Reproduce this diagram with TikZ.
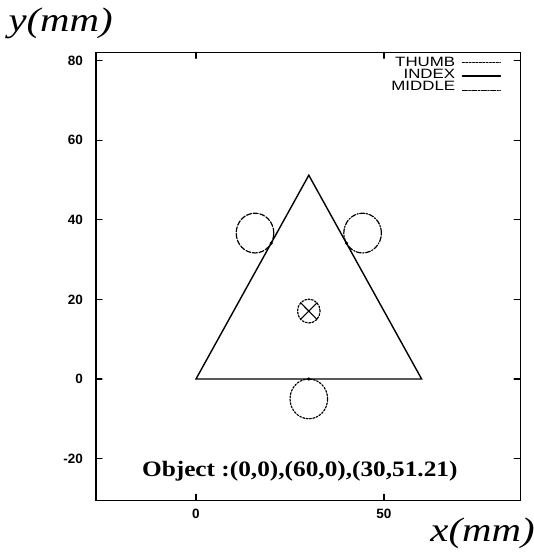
\documentclass[tikz,border=0pt]{standalone}
\usepackage{amsmath}
\usepackage{fontspec}
\usetikzlibrary{positioning}
\newfontfamily\ticksans{Liberation Sans}
\newfontfamily\labelserif{Liberation Serif}

\begin{document}
\begin{tikzpicture}[x=3.76pt, y=3.979pt, line cap=round]
        \tikzset{frameline/.style={line width=1.2pt},
                ticklabel/.style={font=\ticksans\bfseries\fontsize{13.5}{13.5}\selectfont, inner sep=0pt},
                legendtext/.style={font=\ticksans\fontsize{13.5}{13.5}\selectfont, inner sep=0pt, anchor=east, xscale=1.25, transform shape},
                axistext/.style={font=\labelserif\itshape\fontsize{34}{38}\selectfont, inner sep=0pt, xscale=1.2, transform shape},
                thumbline/.style={line width=1.2pt, dash pattern=on 1.8pt off 1.6pt},
                indexline/.style={line width=1.4pt},
                middleline/.style={line width=1.2pt, dash pattern=on 5pt off 1.6pt on 1.2pt off 1.6pt},
                contact/.style={circle, fill, inner sep=0pt, minimum size=3.5pt}}
        \useasboundingbox (-52.13,-44.99) rectangle (89.89,95.25);

        \draw[frameline] (-26.6,-30.5) rectangle (86.2,82.1);
        \foreach \yy in {-20,0,20,40,60,80} {
                \draw[frameline] (-26.6,\yy) -- ++(6pt,0);
                \draw[frameline] (86.2,\yy) -- ++(-6pt,0);
                \node[ticklabel, anchor=east] (ytick\yy) at (-30.05,\yy) {\yy};
        }
        \foreach \xx in {0,50} {
                \draw[frameline] (\xx,-30.5) -- ++(0,6pt);
                \draw[frameline] (\xx,82.1) -- ++(0,-6pt);
                \node[ticklabel] (xtick\xx) at (\xx,-33.9) {\xx};
        }

        \node[axistext] (ylabel) at (-36.0,89.3) {y(mm)};
        \node[axistext] (xlabel) at (76.2,-38.8) {x(mm)};

        \node[legendtext] (thumbkey) at (69.0,79.7) {THUMB};
        \node[legendtext] (indexkey) at (69.0,76.65) {INDEX};
        \node[legendtext] (middlekey) at (69.0,73.6) {MIDDLE};
        \draw[thumbline] ([xshift=7pt,yshift=-1pt]thumbkey.east) -- ++(38pt,0);
        \draw[indexline] ([xshift=7pt,yshift=-2pt]indexkey.east) -- ++(38pt,0);
        \draw[middleline] ([xshift=7pt,yshift=-4pt]middlekey.east) -- ++(38pt,0);

        \coordinate (A) at (0,0);
        \coordinate (B) at (60,0);
        \coordinate (C) at (30,51.21);
        \draw[indexline] (A) -- (B) -- (C) -- cycle;

        \coordinate (pL) at (20,34.14);
        \coordinate (pR) at (40,34.14);
        \coordinate (pB) at (30,0);
        \coordinate (cL) at (15.69,36.67);
        \coordinate (cR) at (44.31,36.67);
        \coordinate (cB) at (30,-5);
        \draw[line width=1.2pt, dash pattern=on 5pt off 1.8pt] (cL) circle (5);
        \draw[middleline] (cR) circle (5);
        \draw[thumbline] (cB) circle (5);
        \node[contact] (kL) at (pL) {};
        \node[contact] (kR) at (pR) {};
        \node[contact] (kB) at (pB) {};

        \coordinate (G) at (30,17.07);
        \draw[thumbline] (G) circle (3);
        \draw[line width=1.1pt] ([shift={(-2.2,-2.1)}]G) -- ([shift={(2.2,2.1)}]G);
        \draw[line width=1.1pt] ([shift={(-2.2,2.1)}]G) -- ([shift={(2.2,-2.1)}]G);

        \node[font=\labelserif\bfseries\fontsize{22}{26}\selectfont, anchor=base west, inner sep=0pt, xscale=1.15, transform shape] (objtext) at (-14.4,-24.4) {Object :(0,0),(60,0),(30,51.21)};
\end{tikzpicture}
\end{document}
